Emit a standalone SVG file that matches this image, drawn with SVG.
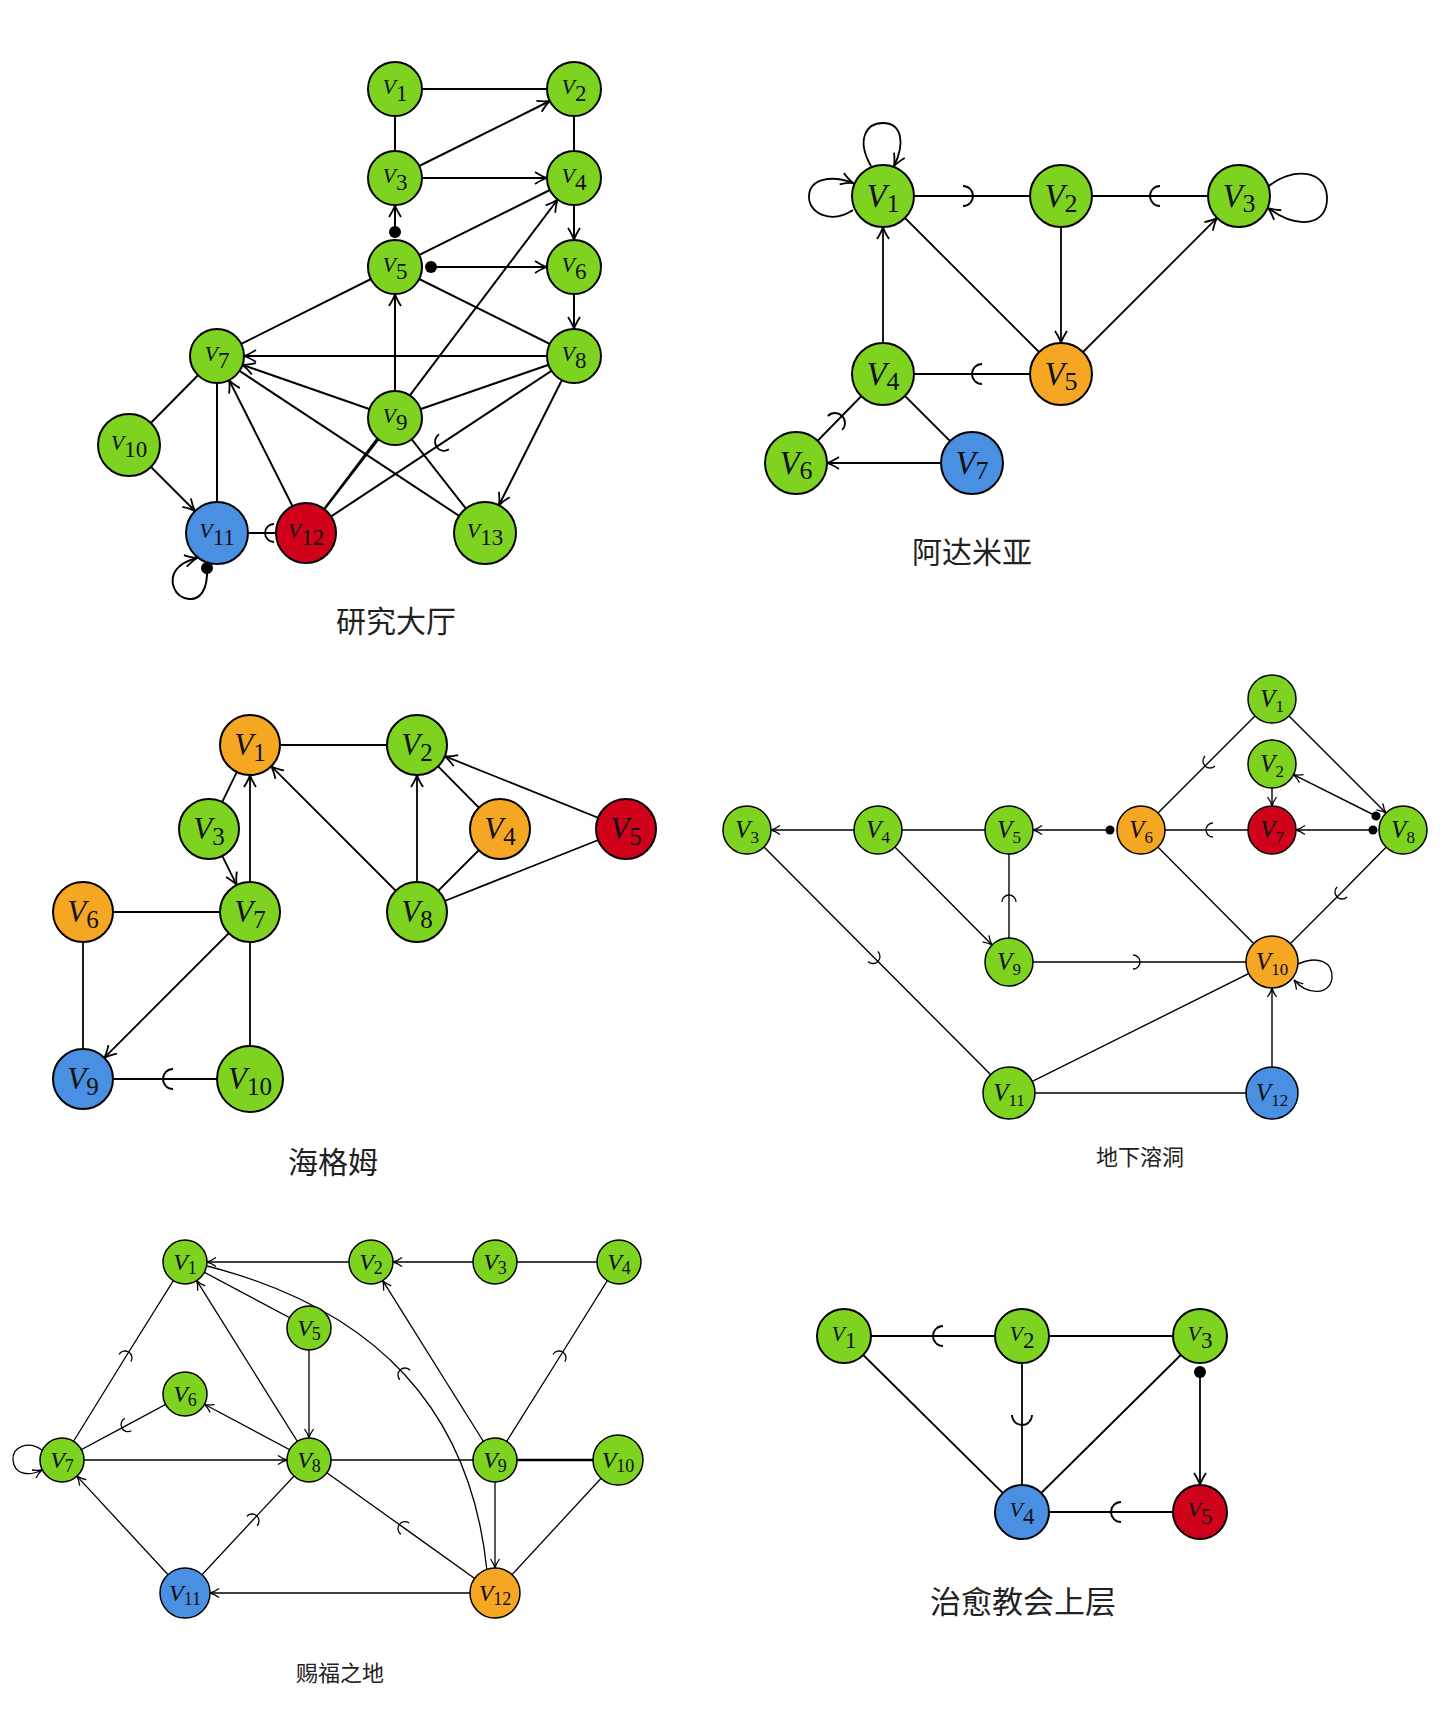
<svg xmlns="http://www.w3.org/2000/svg" width="1440" height="1711" viewBox="0 0 1440 1711">
<style>
.n{stroke:#000;stroke-width:2}
.ns{stroke:#000;stroke-width:1.5}
.g{fill:#7ed321}.o{fill:#f5a623}.b{fill:#4a90e2}.r{fill:#d0021b}
.e{fill:none;stroke:#000;stroke-width:2}
.e18{fill:none;stroke:#000;stroke-width:1.8}
.e14{fill:none;stroke:#000;stroke-width:1.4}
.e13{fill:none;stroke:#000;stroke-width:1.3}
.t{font-family:"Liberation Serif",serif;text-anchor:middle;fill:#111}
.v{font-style:italic}
.f1{font-size:22px}.f1 .s{font-size:23px}
.f2{font-size:33px}.f2 .s{font-size:26px}
.f3{font-size:31px}.f3 .s{font-size:25px}
.f4{font-size:25px}.f4 .s{font-size:17px}
.f5{font-size:24px}.f5 .s{font-size:18px}
.title{font-family:"Noto Sans CJK SC",sans-serif;text-anchor:middle;fill:#222}
.ma{marker-end:url(#arr)}
.mas{marker-end:url(#arrS)}
.md{marker-start:url(#dot)}
.mds{marker-start:url(#dotS)}
.skL{marker-mid:url(#skL)}
.skM{marker-mid:url(#skM)}
.skS{marker-mid:url(#skS)}
</style>
<defs>
<marker id="arr" markerUnits="userSpaceOnUse" orient="auto" overflow="visible" markerWidth="1" markerHeight="1" refX="0" refY="0"><path d="M-12,-6 Q-5,-1.5 0,0 Q-5,1.5 -12,6" fill="none" stroke="#000" stroke-width="1.8"/></marker>
<marker id="arrS" markerUnits="userSpaceOnUse" orient="auto" overflow="visible" markerWidth="1" markerHeight="1" refX="0" refY="0"><path d="M-9,-4.5 Q-4,-1 0,0 Q-4,1 -9,4.5" fill="none" stroke="#000" stroke-width="1.3"/></marker>
<marker id="dot" markerUnits="userSpaceOnUse" orient="auto" overflow="visible" markerWidth="1" markerHeight="1" refX="0" refY="0"><circle r="6" fill="#000"/></marker>
<marker id="dotS" markerUnits="userSpaceOnUse" orient="auto" overflow="visible" markerWidth="1" markerHeight="1" refX="0" refY="0"><circle r="4.5" fill="#000"/></marker>
<marker id="skL" markerUnits="userSpaceOnUse" orient="auto" overflow="visible" markerWidth="1" markerHeight="1" refX="0" refY="0"><path d="M0,-10 A10,10 0 0 1 0,10" fill="none" stroke="#000" stroke-width="1.8"/></marker>
<marker id="skM" markerUnits="userSpaceOnUse" orient="auto" overflow="visible" markerWidth="1" markerHeight="1" refX="0" refY="0"><path d="M0,-9 A9,9 0 0 1 0,9" fill="none" stroke="#000" stroke-width="1.8"/></marker>
<marker id="skS" markerUnits="userSpaceOnUse" orient="auto" overflow="visible" markerWidth="1" markerHeight="1" refX="0" refY="0"><path d="M0,-7 A7,7 0 0 1 0,7" fill="none" stroke="#000" stroke-width="1.3"/></marker>
</defs>
<rect width="1440" height="1711" fill="#fff"/>

<!-- ================= Graph 1 : 研究大厅 ================= -->
<g id="edges-g1" class="e">
<path d="M395,89 L574,89"/>
<path d="M395,89 L395,178"/>
<path d="M574,89 L574,178"/>
<path d="M395,267 L574,178"/>
<path d="M395,267 L217,356"/>
<path d="M395,267 L574,356"/>
<path d="M395,418 L574,356"/>
<path d="M395,418 L485,533"/>
<path d="M485,533 L217,356"/>
<path d="M217,356 L129,445"/>
<path d="M217,356 L217,533"/>
<path d="M306,533 L395,418"/>
<path class="skM" d="M574,356 L444,441.8 L306,533"/>
<path class="skM" d="M306,533 L274,533 L217,533"/>
<path class="ma" d="M395,178 L549.8,101"/>
<path class="ma" d="M395,178 L547,178"/>
<path class="ma md" d="M395,232 L395,205"/>
<path class="ma md" d="M431,267 L547,267"/>
<path class="ma" d="M574,178 L574,240"/>
<path class="ma" d="M574,267 L574,329"/>
<path class="ma" d="M395,418 L395,294"/>
<path class="ma" d="M306,533 L557.7,199.5"/>
<path class="ma" d="M574,356 L244,356"/>
<path class="ma" d="M395,418 L242.5,364.9"/>
<path class="ma" d="M306,533 L229.1,380.1"/>
<path class="ma" d="M574,356 L498.9,505.3"/>
<path class="ma" d="M129,445 L195.1,511.1"/>
<path class="ma md" d="M207,568 C208,590 200,600 189,599 C173,597 169,580 176,570 C181,563 189,560 197,558"/>
</g>
<g id="g1-v1"><circle cx="395" cy="89" r="27" class="n g"/><text x="395" y="93.5" class="t f1"><tspan class="v">V</tspan><tspan class="s" dy="7">1</tspan></text></g>
<g id="g1-v2"><circle cx="574" cy="89" r="27" class="n g"/><text x="574" y="93.5" class="t f1"><tspan class="v">V</tspan><tspan class="s" dy="7">2</tspan></text></g>
<g id="g1-v3"><circle cx="395" cy="178" r="27" class="n g"/><text x="395" y="182.5" class="t f1"><tspan class="v">V</tspan><tspan class="s" dy="7">3</tspan></text></g>
<g id="g1-v4"><circle cx="574" cy="178" r="27" class="n g"/><text x="574" y="182.5" class="t f1"><tspan class="v">V</tspan><tspan class="s" dy="7">4</tspan></text></g>
<g id="g1-v5"><circle cx="395" cy="267" r="27" class="n g"/><text x="395" y="271.5" class="t f1"><tspan class="v">V</tspan><tspan class="s" dy="7">5</tspan></text></g>
<g id="g1-v6"><circle cx="574" cy="267" r="27" class="n g"/><text x="574" y="271.5" class="t f1"><tspan class="v">V</tspan><tspan class="s" dy="7">6</tspan></text></g>
<g id="g1-v7"><circle cx="217" cy="356" r="27" class="n g"/><text x="217" y="360.5" class="t f1"><tspan class="v">V</tspan><tspan class="s" dy="7">7</tspan></text></g>
<g id="g1-v8"><circle cx="574" cy="356" r="27" class="n g"/><text x="574" y="360.5" class="t f1"><tspan class="v">V</tspan><tspan class="s" dy="7">8</tspan></text></g>
<g id="g1-v9"><circle cx="395" cy="418" r="27" class="n g"/><text x="395" y="422.5" class="t f1"><tspan class="v">V</tspan><tspan class="s" dy="7">9</tspan></text></g>
<g id="g1-v10"><circle cx="129" cy="445" r="31" class="n g"/><text x="129" y="449.5" class="t f1"><tspan class="v">V</tspan><tspan class="s" dy="7">10</tspan></text></g>
<g id="g1-v11"><circle cx="217" cy="533" r="31" class="n b"/><text x="217" y="537.5" class="t f1"><tspan class="v">V</tspan><tspan class="s" dy="7">11</tspan></text></g>
<g id="g1-v12"><circle cx="306" cy="533" r="30" class="n r"/><text x="306" y="537.5" class="t f1"><tspan class="v">V</tspan><tspan class="s" dy="7">12</tspan></text></g>
<g id="g1-v13"><circle cx="485" cy="533" r="31" class="n g"/><text x="485" y="537.5" class="t f1"><tspan class="v">V</tspan><tspan class="s" dy="7">13</tspan></text></g>
<text x="396" y="632" class="title" font-size="30">研究大厅</text>

<!-- ================= Graph 2 : 阿达米亚 ================= -->
<g id="edges-g2" class="e18">
<path d="M883,196 L1061,374"/>
<path d="M883,374 L972,463"/>
<path class="skL" d="M883,196 L963,196 L1061,196"/>
<path class="skL" d="M1239,196 L1160,196 L1061,196"/>
<path class="skL" d="M1061,374 L982,374 L883,374"/>
<path class="skL" d="M796,463 L835,423 L883,374"/>
<path class="ma" d="M1061,196 L1061,343"/>
<path class="ma" d="M1061,374 L1217.1,217.9"/>
<path class="ma" d="M883,374 L883,227"/>
<path class="ma" d="M972,463 L827,463"/>
<path class="ma" d="M871,166 C856,140 866,123 883,123 C901,123 906,142 894,166"/>
<path class="ma" d="M853,210 C832,224 809,214 809,197 C809,178 832,175 853,183"/>
<path class="ma" d="M1269,186 C1290,168 1326,168 1327,197 C1328,226 1298,230 1268,208"/>
</g>
<g id="g2-v1"><circle cx="883" cy="196" r="31" class="n g"/><text x="883" y="206.5" class="t f2"><tspan class="v">V</tspan><tspan class="s" dy="5">1</tspan></text></g>
<g id="g2-v2"><circle cx="1061" cy="196" r="31" class="n g"/><text x="1061" y="206.5" class="t f2"><tspan class="v">V</tspan><tspan class="s" dy="5">2</tspan></text></g>
<g id="g2-v3"><circle cx="1239" cy="196" r="31" class="n g"/><text x="1239" y="206.5" class="t f2"><tspan class="v">V</tspan><tspan class="s" dy="5">3</tspan></text></g>
<g id="g2-v4"><circle cx="883" cy="374" r="31" class="n g"/><text x="883" y="384.5" class="t f2"><tspan class="v">V</tspan><tspan class="s" dy="5">4</tspan></text></g>
<g id="g2-v5"><circle cx="1061" cy="374" r="31" class="n o"/><text x="1061" y="384.5" class="t f2"><tspan class="v">V</tspan><tspan class="s" dy="5">5</tspan></text></g>
<g id="g2-v6"><circle cx="796" cy="463" r="31" class="n g"/><text x="796" y="473.5" class="t f2"><tspan class="v">V</tspan><tspan class="s" dy="5">6</tspan></text></g>
<g id="g2-v7"><circle cx="972" cy="463" r="31" class="n b"/><text x="972" y="473.5" class="t f2"><tspan class="v">V</tspan><tspan class="s" dy="5">7</tspan></text></g>
<text x="972" y="563" class="title" font-size="30">阿达米亚</text>

<!-- ================= Graph 3 : 海格姆 ================= -->
<g id="edges-g3" class="e18">
<path d="M250,745 L417,745"/>
<path d="M250,745 L209,829"/>
<path d="M417,745 L500,829"/>
<path d="M500,829 L417,912"/>
<path d="M626,829 L417,912"/>
<path d="M83,912 L250,912"/>
<path d="M83,912 L83,1079"/>
<path d="M250,912 L250,1079"/>
<path class="skL" d="M250,1079 L173,1079 L83,1079"/>
<path class="ma" d="M250,912 L250,775"/>
<path class="ma" d="M209,829 L236.7,885.1"/>
<path class="ma" d="M417,912 L271.2,766.2"/>
<path class="ma" d="M417,912 L417,775"/>
<path class="ma" d="M626,829 L444.8,756.2"/>
<path class="ma" d="M250,912 L104.2,1057.8"/>
</g>
<g id="g3-v1"><circle cx="250" cy="745" r="30" class="n o"/><text x="250" y="755" class="t f3"><tspan class="v">V</tspan><tspan class="s" dy="6">1</tspan></text></g>
<g id="g3-v2"><circle cx="417" cy="745" r="30" class="n g"/><text x="417" y="755" class="t f3"><tspan class="v">V</tspan><tspan class="s" dy="6">2</tspan></text></g>
<g id="g3-v3"><circle cx="209" cy="829" r="30" class="n g"/><text x="209" y="839" class="t f3"><tspan class="v">V</tspan><tspan class="s" dy="6">3</tspan></text></g>
<g id="g3-v4"><circle cx="500" cy="829" r="30" class="n o"/><text x="500" y="839" class="t f3"><tspan class="v">V</tspan><tspan class="s" dy="6">4</tspan></text></g>
<g id="g3-v5"><circle cx="626" cy="829" r="30" class="n r"/><text x="626" y="839" class="t f3"><tspan class="v">V</tspan><tspan class="s" dy="6">5</tspan></text></g>
<g id="g3-v6"><circle cx="83" cy="912" r="30" class="n o"/><text x="83" y="922" class="t f3"><tspan class="v">V</tspan><tspan class="s" dy="6">6</tspan></text></g>
<g id="g3-v7"><circle cx="250" cy="912" r="30" class="n g"/><text x="250" y="922" class="t f3"><tspan class="v">V</tspan><tspan class="s" dy="6">7</tspan></text></g>
<g id="g3-v8"><circle cx="417" cy="912" r="30" class="n g"/><text x="417" y="922" class="t f3"><tspan class="v">V</tspan><tspan class="s" dy="6">8</tspan></text></g>
<g id="g3-v9"><circle cx="83" cy="1079" r="30" class="n b"/><text x="83" y="1089" class="t f3"><tspan class="v">V</tspan><tspan class="s" dy="6">9</tspan></text></g>
<g id="g3-v10"><circle cx="250" cy="1079" r="33" class="n g"/><text x="250" y="1089" class="t f3"><tspan class="v">V</tspan><tspan class="s" dy="6">10</tspan></text></g>
<text x="333" y="1173" class="title" font-size="30">海格姆</text>

<!-- ================= Graph 4 : 地下溶洞 ================= -->
<g id="edges-g4" class="e14">
<path d="M878,830 L1009,830"/>
<path d="M1141,830 L1272,962"/>
<path d="M1009,1093 L1272,962"/>
<path d="M1009,1093 L1272,1093"/>
<path class="skS" d="M747,830 L873,956.5 L1009,1093"/>
<path class="skS" d="M1009,962 L1009,902 L1009,830"/>
<path class="skS" d="M1272,699 L1210,761 L1141,830"/>
<path class="skS" d="M1272,830 L1213,830 L1141,830"/>
<path class="skS" d="M1009,962 L1133,962 L1272,962"/>
<path class="skS" d="M1403,830 L1342,892 L1272,962"/>
<path class="mas" d="M878,830 L771,830"/>
<path class="mas" d="M878,830 L992.1,945"/>
<path class="mas mds" d="M1110,830 L1033,830"/>
<path class="mas" d="M1272,788 L1272,806"/>
<path class="mas mds" d="M1376,816 L1293.5,774.7"/>
<path class="mas mds" d="M1373,830 L1296,830"/>
<path class="mas" d="M1272,699 L1386,813"/>
<path class="mas" d="M1272,1093 L1272,988"/>
<path class="mas" d="M1298,964 C1318,955 1333,962 1332,978 C1330,995 1308,996 1294,980"/>
</g>
<g id="g4-v1"><circle cx="1272" cy="699" r="24" class="ns g"/><text x="1272" y="707" class="t f4"><tspan class="v">V</tspan><tspan class="s" dy="4.5">1</tspan></text></g>
<g id="g4-v2"><circle cx="1272" cy="764" r="24" class="ns g"/><text x="1272" y="772" class="t f4"><tspan class="v">V</tspan><tspan class="s" dy="4.5">2</tspan></text></g>
<g id="g4-v3"><circle cx="747" cy="830" r="24" class="ns g"/><text x="747" y="838" class="t f4"><tspan class="v">V</tspan><tspan class="s" dy="4.5">3</tspan></text></g>
<g id="g4-v4"><circle cx="878" cy="830" r="24" class="ns g"/><text x="878" y="838" class="t f4"><tspan class="v">V</tspan><tspan class="s" dy="4.5">4</tspan></text></g>
<g id="g4-v5"><circle cx="1009" cy="830" r="24" class="ns g"/><text x="1009" y="838" class="t f4"><tspan class="v">V</tspan><tspan class="s" dy="4.5">5</tspan></text></g>
<g id="g4-v6"><circle cx="1141" cy="830" r="24" class="ns o"/><text x="1141" y="838" class="t f4"><tspan class="v">V</tspan><tspan class="s" dy="4.5">6</tspan></text></g>
<g id="g4-v7"><circle cx="1272" cy="830" r="24" class="ns r"/><text x="1272" y="838" class="t f4"><tspan class="v">V</tspan><tspan class="s" dy="4.5">7</tspan></text></g>
<g id="g4-v8"><circle cx="1403" cy="830" r="24" class="ns g"/><text x="1403" y="838" class="t f4"><tspan class="v">V</tspan><tspan class="s" dy="4.5">8</tspan></text></g>
<g id="g4-v9"><circle cx="1009" cy="962" r="24" class="ns g"/><text x="1009" y="970" class="t f4"><tspan class="v">V</tspan><tspan class="s" dy="4.5">9</tspan></text></g>
<g id="g4-v10"><circle cx="1272" cy="962" r="26" class="ns o"/><text x="1272" y="970" class="t f4"><tspan class="v">V</tspan><tspan class="s" dy="4.5">10</tspan></text></g>
<g id="g4-v11"><circle cx="1009" cy="1093" r="26" class="ns g"/><text x="1009" y="1101" class="t f4"><tspan class="v">V</tspan><tspan class="s" dy="4.5">11</tspan></text></g>
<g id="g4-v12"><circle cx="1272" cy="1093" r="26" class="ns b"/><text x="1272" y="1101" class="t f4"><tspan class="v">V</tspan><tspan class="s" dy="4.5">12</tspan></text></g>
<text x="1140" y="1165" class="title" font-size="22">地下溶洞</text>

<!-- ================= Graph 5 : 赐福之地 ================= -->
<g id="edges-g5" class="e13">
<path d="M495,1262 L619,1262"/>
<path d="M185,1262 L309,1328"/>
<path d="M309,1460 L495,1460"/>
<path d="M495,1460 L618,1460" stroke-width="2.3"/>
<path d="M618,1460 L495,1593"/>
<path class="skS" d="M62,1460 L125,1358 L185,1262"/>
<path class="skS" d="M185,1394 L128,1424.6 L62,1460"/>
<path class="skS" d="M185,1593 L252,1521 L309,1460"/>
<path class="skS" d="M495,1460 L559,1358 L619,1262"/>
<path class="skS" d="M495,1593 L405,1528.6 L309,1460"/>
<path class="skS" d="M487,1571 Q475,1451.25 405,1375 Q335,1298.75 207,1266"/>
<path class="mas" d="M371,1262 L207,1262"/>
<path class="mas" d="M495,1262 L393,1262"/>
<path class="mas" d="M309,1328 L309,1438"/>
<path class="mas" d="M309,1460 L196.7,1280.7"/>
<path class="mas" d="M309,1460 L204.4,1404.3"/>
<path class="mas" d="M62,1460 L287,1460"/>
<path class="mas" d="M185,1593 L76.9,1476.1"/>
<path class="mas" d="M495,1593 L210,1593"/>
<path class="mas" d="M495,1460 L382.7,1280.7"/>
<path class="mas" d="M495,1460 L495,1568"/>
<path class="mas" d="M42,1450 C28,1440 12,1447 13,1460 C14,1474 28,1477 42,1470"/>
</g>
<g id="g5-v1"><circle cx="185" cy="1262" r="22" class="ns g"/><text x="185" y="1270" class="t f5"><tspan class="v">V</tspan><tspan class="s" dy="4">1</tspan></text></g>
<g id="g5-v2"><circle cx="371" cy="1262" r="22" class="ns g"/><text x="371" y="1270" class="t f5"><tspan class="v">V</tspan><tspan class="s" dy="4">2</tspan></text></g>
<g id="g5-v3"><circle cx="495" cy="1262" r="22" class="ns g"/><text x="495" y="1270" class="t f5"><tspan class="v">V</tspan><tspan class="s" dy="4">3</tspan></text></g>
<g id="g5-v4"><circle cx="619" cy="1262" r="22" class="ns g"/><text x="619" y="1270" class="t f5"><tspan class="v">V</tspan><tspan class="s" dy="4">4</tspan></text></g>
<g id="g5-v5"><circle cx="309" cy="1328" r="22" class="ns g"/><text x="309" y="1336" class="t f5"><tspan class="v">V</tspan><tspan class="s" dy="4">5</tspan></text></g>
<g id="g5-v6"><circle cx="185" cy="1394" r="22" class="ns g"/><text x="185" y="1402" class="t f5"><tspan class="v">V</tspan><tspan class="s" dy="4">6</tspan></text></g>
<g id="g5-v7"><circle cx="62" cy="1460" r="22" class="ns g"/><text x="62" y="1468" class="t f5"><tspan class="v">V</tspan><tspan class="s" dy="4">7</tspan></text></g>
<g id="g5-v8"><circle cx="309" cy="1460" r="22" class="ns g"/><text x="309" y="1468" class="t f5"><tspan class="v">V</tspan><tspan class="s" dy="4">8</tspan></text></g>
<g id="g5-v9"><circle cx="495" cy="1460" r="22" class="ns g"/><text x="495" y="1468" class="t f5"><tspan class="v">V</tspan><tspan class="s" dy="4">9</tspan></text></g>
<g id="g5-v10"><circle cx="618" cy="1460" r="25" class="ns g"/><text x="618" y="1468" class="t f5"><tspan class="v">V</tspan><tspan class="s" dy="4">10</tspan></text></g>
<g id="g5-v11"><circle cx="185" cy="1593" r="25" class="ns b"/><text x="185" y="1601" class="t f5"><tspan class="v">V</tspan><tspan class="s" dy="4">11</tspan></text></g>
<g id="g5-v12"><circle cx="495" cy="1593" r="25" class="ns o"/><text x="495" y="1601" class="t f5"><tspan class="v">V</tspan><tspan class="s" dy="4">12</tspan></text></g>
<text x="340" y="1681" class="title" font-size="22">赐福之地</text>

<!-- ================= Graph 6 : 治愈教会上层 ================= -->
<g id="edges-g6" class="e18">
<path d="M1022,1336 L1200,1336"/>
<path d="M844,1336 L1022,1512"/>
<path d="M1200,1336 L1022,1512"/>
<path class="skL" d="M1022,1336 L943,1336 L844,1336"/>
<path class="skL" d="M1022,1336 L1022,1415 L1022,1512"/>
<path class="skL" d="M1200,1512 L1121,1512 L1022,1512"/>
<path class="ma md" d="M1200,1372 L1200,1485"/>
</g>
<g id="g6-v1"><circle cx="844" cy="1336" r="27" class="n g"/><text x="844" y="1340.5" class="t f1"><tspan class="v">V</tspan><tspan class="s" dy="7">1</tspan></text></g>
<g id="g6-v2"><circle cx="1022" cy="1336" r="27" class="n g"/><text x="1022" y="1340.5" class="t f1"><tspan class="v">V</tspan><tspan class="s" dy="7">2</tspan></text></g>
<g id="g6-v3"><circle cx="1200" cy="1336" r="27" class="n g"/><text x="1200" y="1340.5" class="t f1"><tspan class="v">V</tspan><tspan class="s" dy="7">3</tspan></text></g>
<g id="g6-v4"><circle cx="1022" cy="1512" r="27" class="n b"/><text x="1022" y="1516.5" class="t f1"><tspan class="v">V</tspan><tspan class="s" dy="7">4</tspan></text></g>
<g id="g6-v5"><circle cx="1200" cy="1512" r="27" class="n r"/><text x="1200" y="1516.5" class="t f1"><tspan class="v">V</tspan><tspan class="s" dy="7">5</tspan></text></g>
<text x="1023" y="1613" class="title" font-size="31">治愈教会上层</text>
</svg>
